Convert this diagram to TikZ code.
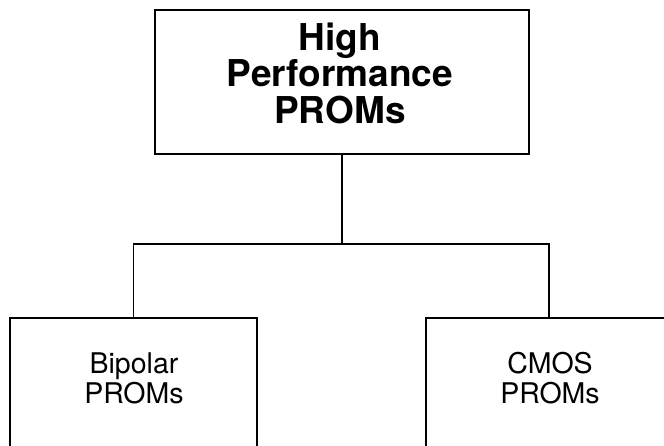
\documentclass[tikz,border=0pt]{standalone}
\usepackage{fontspec}
\setmainfont{TeX Gyre Heros}
\usetikzlibrary{positioning}

\begin{document}
\begin{tikzpicture}[x=1pt,y=-1pt,
        box/.style={draw, line width=2pt, inner sep=0pt},
        link/.style={draw, line width=1.4pt},
        lbl/.style={align=center, inner sep=0pt}]
        \useasboundingbox (0,0) rectangle (664,445);

        \node[box, line width=2.6pt, minimum width=374pt, minimum height=144pt] (top) at (342,82) {};
        \node[lbl, font=\bfseries\fontsize{37}{36.5}\selectfont] (toptxt) at (340,73) {High\\Performance\\PROMs};

        \node[box, minimum width=247pt, minimum height=160pt] (bip) at (133.5,398) {};
        \node[lbl, font=\fontsize{28.5}{30}\selectfont] (biptxt) at (134,378) {Bipolar\\PROMs};

        \node[box, minimum width=246pt, minimum height=160pt] (cmos) at (549,398) {};
        \node[lbl, font=\fontsize{28.5}{30}\selectfont] (cmostxt) at (550,378) {CMOS\\PROMs};

        \coordinate (hub) at (top.south |- 0,244);
        \draw[link] (top.south) -- (hub);
        \draw[link] (bip.north) |- (hub) -| (cmos.north);
    \end{tikzpicture}
\end{document}
